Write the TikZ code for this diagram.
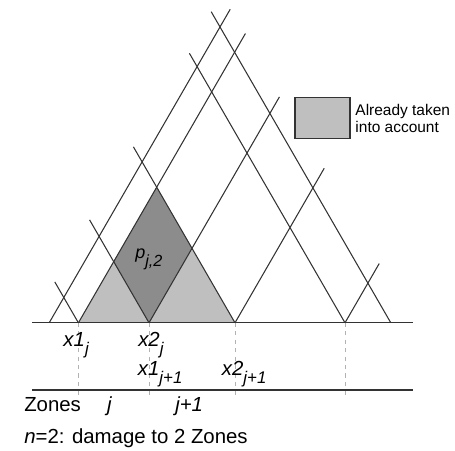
\documentclass[tikz,border=0pt]{standalone}
\usepackage{fontspec}
\setmainfont{Liberation Sans}
\usepackage{xcolor}
\usepackage{tikz}
\usetikzlibrary{calc}

\definecolor{lightarea}{gray}{0.75}
\definecolor{darkarea}{gray}{0.55}
\newcommand{\lowsub}[1]{\raisebox{-6pt}{\fontsize{12}{12}\selectfont\itshape #1}}

\begin{document}
\begin{tikzpicture}[
  grid/.style={line width=0.75pt,black!80},
  guide/.style={dashed,gray!60,line width=0.5pt},
  lbl/.style={font=\fontsize{14.5}{16}\selectfont,inner sep=0pt,anchor=base west}]
  \useasboundingbox (0,0) rectangle (11.375,11.25);

  % Points on the upper axis
  \coordinate (b0) at (1.23,3.18);
  \coordinate (b1) at (1.96,3.18);
  \coordinate (b2) at (3.725,3.18);
  \coordinate (b3) at (5.875,3.18);
  \coordinate (b4) at (8.625,3.18);
  \coordinate (b5) at (9.77,3.18);

  % Corners of the shaded areas
  \coordinate (top)   at ($(b1)!1!60:(b3)$);
  \coordinate (left)  at ($(b1)!1!60:(b2)$);
  \coordinate (right) at ($(b2)!1!60:(b3)$);

  % Already taken into account / p_{j,2}
  \fill[lightarea] (b1) -- (top) -- (b3) -- cycle;
  \fill[darkarea] (b2) -- (right) -- (top) -- (left) -- cycle;

  % Dashed guides down to the zone axis
  \draw[guide] (b1) -- ++(0,-1.83);
  \draw[guide] (b2) -- ++(0,-1.83);
  \draw[guide] (b3) -- ++(0,-1.83);
  \draw[guide] (b4) -- ++(0,-1.83);

  % Axes
  \draw[grid] (0.8,3.18) -- (10.325,3.18);
  \draw[grid] (0.8,1.5) -- (10.325,1.5);

  % Rising lines
  \draw[grid] (b0) -- ++(60:9.05);
  \draw[grid] (b1) -- ++(60:8.35);
  \draw[grid] (b2) -- ++(60:6.52);
  \draw[grid] (b3) -- ++(60:4.46);
  \draw[grid] (b4) -- ++(60:1.71);

  % Falling lines
  \draw[grid] (b1) -- ++(120:1.18);
  \draw[grid] (b2) -- ++(120:2.97);
  \draw[grid] (b3) -- ++(120:5.08);
  \draw[grid] (b4) -- ++(120:7.78);
  \draw[grid] (b5) -- ++(120:8.98);

  % Labels
  \node[lbl] (x1j)  at (1.58,2.6)  {\textit{x1}\lowsub{j}};
  \node[lbl] (x2j)  at (3.45,2.6)  {\textit{x2}\lowsub{j}};
  \node[lbl] (x1jp) at (3.44,1.875) {\textit{x1}\lowsub{j+1}};
  \node[lbl] (x2jp) at (5.54,1.875) {\textit{x2}\lowsub{j+1}};
  \node[lbl] (pj2) at (3.375,4.8)
    {\fontsize{12.8}{14}\selectfont\textit{p}\raisebox{-6pt}{\fontsize{11.5}{12}\selectfont\itshape j,2}};

  \node[lbl] (zones) at (0.6,0.96)  {Zones};
  \node[lbl] (zj)    at (2.67,0.96) {\textit{j}};
  \node[lbl] (zjp)   at (4.375,0.96) {\textit{j+1}};
  \node[lbl] (note)  at (0.6,0.175) {\textit{n}=2: damage to 2 Zones};

  % Legend
  \draw[line width=0.8pt,black!80,fill=lightarea] (7.375,7.79) rectangle (8.75,8.82);
  \node[font=\fontsize{11}{12.2}\selectfont,align=left,inner sep=0pt,anchor=north west]
    (legend) at (8.88,8.66) {Already taken\\into account};
\end{tikzpicture}
\end{document}
